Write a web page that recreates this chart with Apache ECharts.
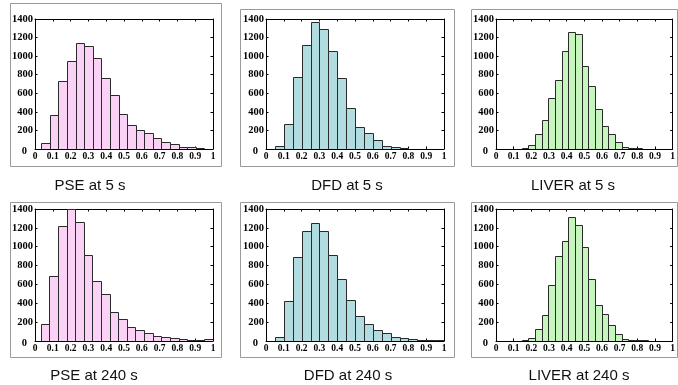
<!DOCTYPE html>
<html><head><meta charset="utf-8">
<script src="https://cdn.jsdelivr.net/npm/echarts@6/dist/echarts.min.js"></script>
<style>html,body{margin:0;padding:0;background:#fff}#c{width:678px;height:385px}</style>
</head><body><div id="c"></div>
<script>
// ---- data ----
const panelTitles = ['PSE at 5 s', 'DFD at 5 s', 'LIVER at 5 s', 'PSE at 240 s', 'DFD at 240 s', 'LIVER at 240 s'];
const xTicks = [0, 0.1, 0.2, 0.3, 0.4, 0.5, 0.6, 0.7, 0.8, 0.9, 1];
const yTicks = [0, 200, 400, 600, 800, 1000, 1200, 1400];
// histogram range (data min / max) of each panel, 20 bins each
const pse5Range = [0.035, 1.0];
const dfd5Range = [0.0, 1.0];
const liver5Range = [0.145, 0.9];
const pse240Range = [0.032, 1.0];
const dfd240Range = [0.0, 1.0];
const liver240Range = [0.145, 0.9];
// bin counts
const pse5 = [60, 370, 730, 950, 1140, 1110, 980, 765, 585, 382, 261, 207, 175, 114, 71, 50, 25, 21, 14, 0];
const dfd5 = [5, 35, 265, 780, 1125, 1365, 1290, 1060, 760, 440, 240, 175, 100, 35, 22, 12, 5, 4, 3, 0];
const liver5 = [10, 40, 160, 310, 550, 740, 1060, 1260, 1235, 890, 680, 430, 250, 160, 80, 25, 15, 8, 5, 3];
const pse240 = [180, 690, 1215, 1405, 1265, 915, 635, 500, 310, 230, 145, 120, 80, 55, 45, 35, 22, 15, 8, 18];
const dfd240 = [5, 40, 420, 890, 1165, 1250, 1170, 915, 660, 440, 270, 180, 120, 80, 45, 30, 20, 10, 8, 8];
const liver240 = [10, 30, 130, 280, 590, 900, 1060, 1310, 1230, 1000, 660, 380, 290, 170, 70, 25, 10, 15, 8, 3];

// ---- layout / style ----
const counts = [pse5, dfd5, liver5, pse240, dfd240, liver240];
const ranges = [pse5Range, dfd5Range, liver5Range, pse240Range, dfd240Range, liver240Range];
const fills = ['#f9d2f5', '#b2dde0', '#c6f5be', '#f9d2f5', '#b2dde0', '#c6f5be'];
const plotRects = [
  [35, 19, 178, 130], [266, 19, 178, 130], [496, 19, 178, 130],
  [35, 209, 178, 132], [266, 209, 178, 132], [496, 209, 178, 132]
];
const frames = [
  [10, 3, 211, 163], [240, 9, 214, 157], [471, 9, 206, 157],
  [10, 202, 211, 155], [240, 202, 214, 155], [471, 202, 206, 155]
];
const titlePos = [[90, 186], [347, 186], [573, 186], [94, 376], [348, 376], [579, 376]];

const serif = '"Liberation Serif", "Times New Roman", serif';
const grids = [], xAxes = [], yAxes = [], series = [], graphics = [];

frames.forEach(f => graphics.push({
  type: 'rect', shape: {x: f[0] + 0.5, y: f[1] + 0.5, width: f[2], height: f[3]},
  style: {fill: 'none', stroke: '#9a9a9a', lineWidth: 1}, z: -1
}));
titlePos.forEach((p, i) => graphics.push({
  type: 'text', x: p[0], y: p[1],
  style: {text: panelTitles[i], fill: '#111', font: '15px "Liberation Sans", Arial, sans-serif',
          textAlign: 'center', textVerticalAlign: 'middle'}
}));

plotRects.forEach((r, i) => {
  grids.push({left: r[0], top: r[1], width: r[2], height: r[3], containLabel: false});
  const xCommon = {type: 'value', gridIndex: i, min: xTicks[0], max: xTicks[xTicks.length - 1], interval: 0.1,
    axisLine: {show: true, onZero: false, lineStyle: {color: '#000', width: 1}},
    axisTick: {show: true, inside: true, length: 2.5, lineStyle: {color: '#000'}},
    splitLine: {show: false}};
  xAxes.push(Object.assign({}, xCommon, {position: 'bottom',
    axisLabel: {show: true, margin: 3, color: '#000', fontFamily: serif, fontWeight: 'bold', fontSize: 9.5,
      formatter: v => String(Math.round(v * 10) / 10)}}));
  xAxes.push(Object.assign({}, xCommon, {position: 'top', axisLabel: {show: false}}));
  const yCommon = {type: 'value', gridIndex: i, min: yTicks[0], max: yTicks[yTicks.length - 1], interval: 200,
    axisLine: {show: true, onZero: false, lineStyle: {color: '#000', width: 1}},
    axisTick: {show: true, inside: true, length: 2.5, lineStyle: {color: '#000'}},
    splitLine: {show: false}};
  yAxes.push(Object.assign({}, yCommon, {position: 'left',
    axisLabel: {show: true, margin: 2, color: '#000', fontFamily: serif, fontWeight: 'bold', fontSize: 10.5,
      formatter: v => v === 0 ? '{z|0}' : String(v),
      rich: {z: {fontFamily: serif, fontWeight: 'bold', fontSize: 10.5, color: '#000', padding: [5, 6, 0, 0]}}}}));
  yAxes.push(Object.assign({}, yCommon, {position: 'right', axisLabel: {show: false}}));

  const lo = ranges[i][0], hi = ranges[i][1], n = counts[i].length, w = (hi - lo) / n;
  const data = counts[i].map((c, k) => [lo + k * w, lo + (k + 1) * w, c]);
  series.push({
    type: 'custom', xAxisIndex: 2 * i, yAxisIndex: 2 * i, data: data,
    encode: {x: [0, 1], y: 2}, clip: true,
    renderItem: (params, api) => {
      const p0 = api.coord([api.value(0), api.value(2)]);
      const p1 = api.coord([api.value(1), 0]);
      if (api.value(2) <= 0) return null;
      return {type: 'rect',
        shape: {x: Math.round(p0[0]) + 0.5, y: Math.round(p0[1]) + 0.5,
                width: Math.round(p1[0]) - Math.round(p0[0]), height: Math.round(p1[1]) - Math.round(p0[1])},
        style: {fill: fills[i], stroke: '#2a2a2a', lineWidth: 1}};
    }
  });
});

const chart = echarts.init(document.getElementById('c'), null, {renderer: 'canvas'});
chart.setOption({animation: false, backgroundColor: '#fff', grid: grids, xAxis: xAxes, yAxis: yAxes,
  series: series, graphic: graphics});
</script></body></html>
